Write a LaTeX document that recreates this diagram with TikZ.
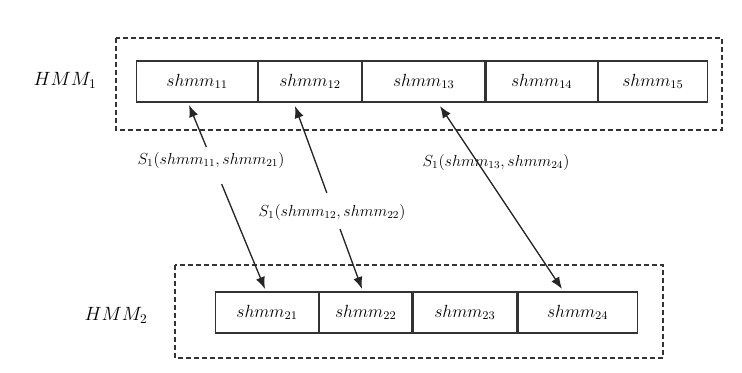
\documentclass[tikz,border=0pt]{standalone}
\usepackage{fontspec}
\usetikzlibrary{arrows.meta,calc}
\newcommand\cellmath[1]{\scalebox{1.1}{$#1$}}
\begin{document}
\begin{tikzpicture}[x=0.75pt,y=-0.75pt,
  cell/.style={draw=black!80,line width=0.9pt,minimum height=30.75pt,inner sep=0pt,
    font=\fontsize{12pt}{14pt}\selectfont,anchor=west},
  dashbox/.style={draw=black!80,line width=0.9pt,dash pattern=on 3.6pt off 2.4pt},
  lbl/.style={font=\fontsize{12pt}{14pt}\selectfont,inner sep=1pt},
  hmm/.style={font=\fontsize{14pt}{16pt}\selectfont,inner sep=1pt},
  arr/.style={draw=black!85,line width=1pt},
  tip/.style={-{Latex[length=9pt,width=7pt]}}
]
\useasboundingbox (0,0) rectangle (742,372);

% dashed containers
\draw[dashbox] (116,38) rectangle (722,130);
\draw[dashbox] (175,265) rectangle (663,358);

% row labels
\node[hmm] (h1) at (65,80) {$HMM_1$};
\node[hmm] (h2) at (116,315) {$HMM_2$};

% top row
\node[cell,minimum width=90.75pt] (c11) at (136,81.5) {\cellmath{shmm_{11}}};
\node[cell,minimum width=76.9pt]  (c12) at (c11.east) {\cellmath{shmm_{12}}};
\node[cell,minimum width=91.9pt]  (c13) at (c12.east) {\cellmath{shmm_{13}}};
\node[cell,minimum width=83.25pt] (c14) at (c13.east) {\cellmath{shmm_{14}}};
\node[cell,minimum width=81.75pt] (c15) at (c14.east) {\cellmath{shmm_{15}}};

% bottom row
\node[cell,minimum width=77.25pt] (c21) at (215,312.5) {\cellmath{shmm_{21}}};
\node[cell,minimum width=69pt]    (c22) at (c21.east) {\cellmath{shmm_{22}}};
\node[cell,minimum width=78pt]    (c23) at (c22.east) {\cellmath{shmm_{23}}};
\node[cell,minimum width=89.25pt] (c24) at (c23.east) {\cellmath{shmm_{24}}};

% arrow end points
\coordinate (t1) at (189,105);
\coordinate (b1) at (265,289);
\coordinate (t2) at (295,106);
\coordinate (b2) at (362,289);
\coordinate (t3) at (440,106);
\coordinate (b3) at (562,289);

% connector 1 (with gap for its label)
\draw[arr,tip] ($(t1)!0.228!(b1)$) -- (t1);
\draw[arr,tip] ($(t1)!0.43!(b1)$) -- (b1);
\node[lbl] (s1) at (211,160) {$S_1(shmm_{11}, shmm_{21})$};

% connector 2 (with gap for its label)
\draw[arr,tip] ($(t2)!0.475!(b2)$) -- (t2);
\draw[arr,tip] ($(t2)!0.672!(b2)$) -- (b2);
\node[lbl] (s2) at (332,212) {$S_1(shmm_{12}, shmm_{22})$};

% connector 3 (line passes through the label)
\node[lbl] (s3) at (496,162) {$S_1(shmm_{13}, shmm_{24})$};
\draw[arr,{Latex[length=9pt,width=7pt]}-{Latex[length=9pt,width=7pt]}] (t3) -- (b3);
\end{tikzpicture}
\end{document}
